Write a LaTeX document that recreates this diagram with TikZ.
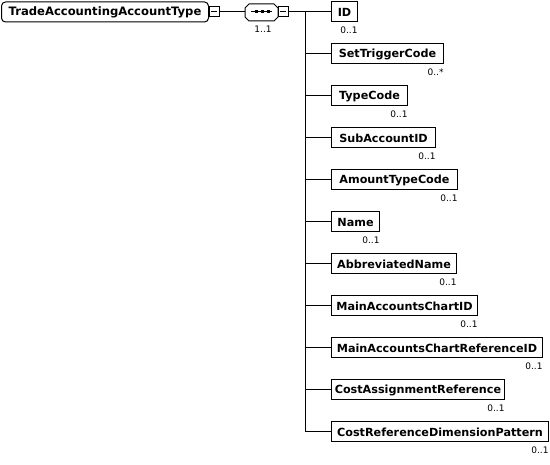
\documentclass[tikz,border=0pt]{standalone}
\usepackage{fontspec}
\setmainfont{DejaVu Sans}
\begin{document}
\begin{tikzpicture}[x=1pt,y=-1pt,line width=1pt,
  elem/.style={draw,anchor=west,minimum height=20pt,inner sep=0pt,font=\bfseries\fontsize{11.2}{13}\selectfont},
  rootbox/.style={elem,rounded corners=4pt,font=\bfseries\fontsize{11.6}{14}\selectfont},
  mult/.style={anchor=north east,inner sep=0pt,font=\fontsize{9}{10}\selectfont},
  minusbox/.style={draw,fill=white,minimum size=10pt,inner sep=0pt}]
\useasboundingbox (0,0) rectangle (550,465);
\node[rootbox,minimum width=207pt] (root) at (1,12) {TradeAccountingAccountType};
\node[minusbox] (m1) at (214,12) {};
\draw (m1.center) ++(-3,0) -- ++(6,0);
\coordinate (seqL) at (245,12);
\draw (root.east) -- (m1.west);
\draw (m1.east) -- (seqL);
\draw (245,8) -- (249,4) -- (274,4) -- (278,8) -- (278,17) -- (274,21) -- (249,21) -- (245,17) -- cycle;
\draw (251,12) -- (272,12);
\foreach \x in {256,262,268} \fill (\x-1.5,10.5) rectangle (\x+1.5,13.5);
\node[minusbox] (m2) at (283,12) {};
\draw (m2.center) ++(-3,0) -- ++(6,0);
\node[mult,anchor=north] (m) at (263,25) {1..1};
\coordinate (bus) at (305,12);
\draw (m2.east) -- (bus);
\foreach \name/\txt/\w/\mm [count=\i from 0] in {
 c0/ID/26/0..1,
 c1/SetTriggerCode/112/0..*,
 c2/TypeCode/76/0..1,
 c3/SubAccountID/104/0..1,
 c4/AmountTypeCode/126/0..1,
 c5/Name/48/0..1,
 c6/AbbreviatedName/125/0..1,
 c7/MainAccountsChartID/146/0..1,
 c8/MainAccountsChartReferenceID/211/0..1,
 c9/CostAssignmentReference/173/0..1,
 c10/CostReferenceDimensionPattern/217/0..1}{
  \node[elem,minimum width=\w pt] (\name) at (331,12+42*\i) {\txt};
  \node[mult] (\name m) at ([xshift=0pt,yshift=-3.5pt]\name.south east) {\mm};
  \draw (\name.west) -- (\name.west -| bus);
}
\draw (bus) -- (c10.west -| bus);
\end{tikzpicture}
\end{document}
